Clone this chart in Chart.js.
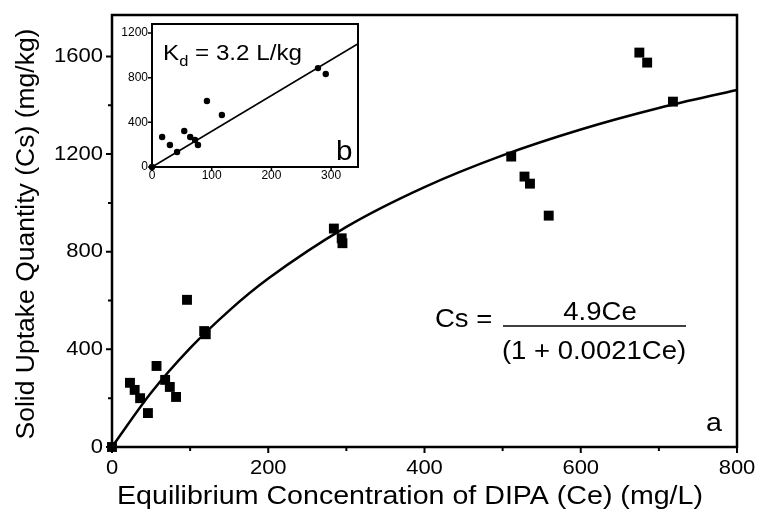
<!DOCTYPE html>
<html><head><meta charset="utf-8">
<script src="https://cdn.jsdelivr.net/npm/chart.js@4/dist/chart.umd.min.js"></script>
<style>
html,body{margin:0;padding:0;background:#fff;}
#wrap{position:relative;width:758px;height:519px;overflow:hidden;}
#main{position:absolute;left:0;top:0;}
#inset{position:absolute;left:116px;top:18px;}
</style></head><body>
<div id="wrap"><canvas id="main" width="758" height="519"></canvas><canvas id="inset" width="246" height="176"></canvas></div>
<script>
// ---- data ----
const ceData = [0, 23, 29, 36, 46, 57, 68, 74, 82, 96, 118, 120, 284, 294, 295, 511, 528, 535, 559, 675, 685, 718];
const csData = [0, 263, 234, 200, 139, 332, 275, 246, 205, 603, 475, 462, 895, 855, 835, 1190, 1108, 1079, 948, 1616, 1575, 1415];
const fitCe = [0, 50, 100, 150, 200, 300, 400, 500, 600, 700, 800];
const fitCs = [0, 222, 405, 559, 690, 902, 1065, 1195, 1301, 1389, 1463];
const insetCe = [0, 17, 30, 42, 54, 64, 72, 77, 92, 117, 278, 291];
const insetCs = [0, 269, 197, 134, 322, 269, 242, 197, 591, 466, 886, 833];
const kdLineCe = [0, 345];
const kdLineCs = [0, 1104];
const xTicks = [0, 200, 400, 600, 800];
const xMinor = [100, 300, 500, 700];
const yTicks = [0, 400, 800, 1200, 1600];
const yMinor = [200, 600, 1000, 1400];
const insetXTicks = [0, 100, 200, 300];
const insetYTicks = [0, 400, 800, 1200];
const xTitle = 'Equilibrium Concentration of DIPA (Ce) (mg/L)';
const yTitle = 'Solid Uptake Quantity (Cs) (mg/kg)';

const FONT = '"Liberation Sans", Arial, sans-serif';
const SX = 1.1; // horizontal stretch of the reference lettering
const pts = (xs, ys) => xs.map((x, i) => ({x: x, y: ys[i]}));

function stretchedText(ctx, text, x, y, align, sx) {
  ctx.save();
  ctx.translate(x, y);
  ctx.scale(sx, 1);
  ctx.textAlign = align;
  ctx.fillText(text, 0, 0);
  ctx.restore();
}

function drawFrameAndTicks(chart, o) {
  const ctx = chart.ctx, a = chart.chartArea;
  const xs = chart.scales.x, ys = chart.scales.y;
  ctx.save();
  ctx.strokeStyle = '#000';
  ctx.lineWidth = o.frameWidth;
  ctx.strokeRect(a.left, a.top, a.right - a.left, a.bottom - a.top);
  ctx.lineWidth = o.tickWidth;
  ctx.beginPath();
  o.xMajor.forEach(v => { const p = xs.getPixelForValue(v); ctx.moveTo(p, a.bottom); ctx.lineTo(p, a.bottom + o.majorLen); });
  (o.xMinor || []).forEach(v => { const p = xs.getPixelForValue(v); ctx.moveTo(p, a.bottom); ctx.lineTo(p, a.bottom + o.minorLen); });
  o.yMajor.forEach(v => { const p = ys.getPixelForValue(v); ctx.moveTo(a.left, p); ctx.lineTo(a.left - o.majorLen, p); });
  (o.yMinor || []).forEach(v => { const p = ys.getPixelForValue(v); ctx.moveTo(a.left, p); ctx.lineTo(a.left - o.minorLen, p); });
  ctx.stroke();
  // tick labels
  ctx.fillStyle = '#000';
  ctx.textBaseline = 'middle';
  ctx.font = o.labelSize + 'px ' + FONT;
  o.xMajor.forEach(v => stretchedText(ctx, String(v), xs.getPixelForValue(v), a.bottom + o.xLabelOff, 'center', o.sx));
  o.yMajor.forEach(v => stretchedText(ctx, String(v), a.left - o.yLabelOff, ys.getPixelForValue(v), 'right', o.sx));
  ctx.restore();
}

const mainPlugin = {
  id: 'mainDecor',
  afterDatasetsDraw(chart) {
    drawFrameAndTicks(chart, {frameWidth: 2.5, tickWidth: 2, majorLen: 6, minorLen: 4,
      xMajor: xTicks, xMinor: xMinor, yMajor: yTicks, yMinor: yMinor,
      labelSize: 20, sx: SX, xLabelOff: 21, yLabelOff: 9});
    const ctx = chart.ctx;
    ctx.save();
    ctx.fillStyle = '#000';
    ctx.textBaseline = 'middle';
    ctx.font = '26px ' + FONT;
    stretchedText(ctx, xTitle, 410, 497, 'center', SX);
    ctx.save();
    ctx.translate(27, 234);
    ctx.rotate(-Math.PI / 2);
    ctx.font = '26.5px ' + FONT;
    ctx.textAlign = 'center';
    ctx.fillText(yTitle, 0, 0);
    ctx.restore();
    // equation
    ctx.font = '25px ' + FONT;
    stretchedText(ctx, 'Cs =', 435, 320, 'left', SX);
    stretchedText(ctx, '4.9Ce', 600, 313, 'center', SX);
    stretchedText(ctx, '(1 + 0.0021Ce)', 594, 352, 'center', SX);
    ctx.strokeStyle = '#000';
    ctx.lineWidth = 1.5;
    ctx.beginPath(); ctx.moveTo(503, 326); ctx.lineTo(686, 326); ctx.stroke();
    ctx.font = '26px ' + FONT;
    stretchedText(ctx, 'a', 714, 424, 'center', SX);
    ctx.restore();
  }
};

new Chart(document.getElementById('main'), {
  type: 'scatter',
  data: {datasets: [
    {type: 'line', data: pts(fitCe, fitCs), borderColor: '#000', borderWidth: 2.5, pointRadius: 0,
     cubicInterpolationMode: 'monotone', fill: false, order: 2},
    {data: pts(ceData, csData), pointStyle: 'rect', pointRadius: 7, backgroundColor: '#000',
     borderColor: '#000', borderWidth: 0, order: 1}
  ]},
  options: {
    responsive: false, animation: false, events: [], clip: false,
    layout: {padding: {top: 15, right: 21, left: 0, bottom: 0}},
    plugins: {legend: {display: false}, tooltip: {enabled: false}},
    scales: {
      x: {type: 'linear', min: 0, max: 800,
          afterBuildTicks(s) { s.ticks = xTicks.map(v => ({value: v})); },
          afterFit(s) { s.height = 72; },
          grid: {display: false}, border: {display: false}, ticks: {display: false}},
      y: {type: 'linear', min: 0, max: 1770,
          afterBuildTicks(s) { s.ticks = yTicks.map(v => ({value: v})); },
          afterFit(s) { s.width = 112; },
          grid: {display: false}, border: {display: false}, ticks: {display: false}}
    }
  },
  plugins: [mainPlugin]
});

const insetPlugin = {
  id: 'insetDecor',
  afterDatasetsDraw(chart) {
    drawFrameAndTicks(chart, {frameWidth: 2, tickWidth: 1.5, majorLen: 4, minorLen: 3,
      xMajor: insetXTicks, yMajor: insetYTicks,
      labelSize: 12, sx: 1.0, xLabelOff: 9, yLabelOff: 4});
    const ctx = chart.ctx;
    ctx.save();
    ctx.fillStyle = '#000';
    ctx.textBaseline = 'alphabetic';
    ctx.textAlign = 'left';
    const x0 = 47;
    ctx.font = '22px ' + FONT;
    stretchedText(ctx, 'K', x0, 42, 'left', SX);
    const kw = ctx.measureText('K').width * SX;
    ctx.font = '15px ' + FONT;
    stretchedText(ctx, 'd', x0 + kw, 48, 'left', SX);
    const dw = ctx.measureText('d').width * SX;
    ctx.font = '22px ' + FONT;
    stretchedText(ctx, ' = 3.2 L/kg', x0 + kw + dw, 42, 'left', SX);
    ctx.font = '27px ' + FONT;
    stretchedText(ctx, 'b', 220, 142, 'left', SX);
    ctx.restore();
  }
};

new Chart(document.getElementById('inset'), {
  type: 'scatter',
  data: {datasets: [
    {type: 'line', data: pts(kdLineCe, kdLineCs), borderColor: '#000', borderWidth: 1.5, pointRadius: 0, fill: false, order: 2},
    {data: pts(insetCe, insetCs), pointStyle: 'circle', pointRadius: 3.2, backgroundColor: '#000',
     borderColor: '#000', borderWidth: 0, order: 1}
  ]},
  options: {
    responsive: false, animation: false, events: [], clip: false,
    layout: {padding: {top: 6, right: 4, left: 0, bottom: 0}},
    plugins: {legend: {display: false}, tooltip: {enabled: false}},
    scales: {
      x: {type: 'linear', min: 0, max: 345,
          afterBuildTicks(s) { s.ticks = insetXTicks.map(v => ({value: v})); },
          afterFit(s) { s.height = 27; },
          grid: {display: false}, border: {display: false}, ticks: {display: false}},
      y: {type: 'linear', min: 0, max: 1281,
          afterBuildTicks(s) { s.ticks = insetYTicks.map(v => ({value: v})); },
          afterFit(s) { s.width = 36; },
          grid: {display: false}, border: {display: false}, ticks: {display: false}}
    }
  },
  plugins: [insetPlugin]
});
</script>
</body></html>
